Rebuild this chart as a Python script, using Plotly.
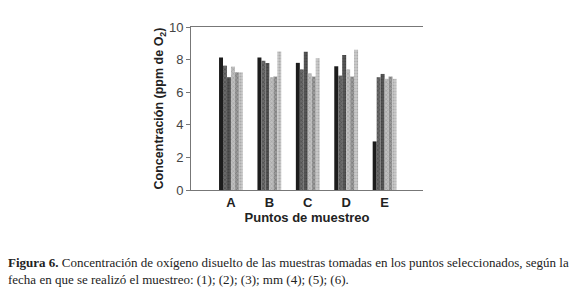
import plotly.graph_objects as go

categories = ["A", "B", "C", "D", "E"]
serie_1 = [8.13, 8.13, 7.80, 7.59, 2.98]
serie_2 = [7.63, 7.93, 7.40, 7.02, 6.92]
serie_3 = [6.92, 7.79, 8.48, 8.28, 7.12]
serie_4 = [7.57, 6.92, 7.16, 7.40, 6.82]
serie_5 = [7.22, 6.96, 6.96, 6.96, 6.96]
serie_6 = [7.22, 8.50, 8.09, 8.60, 6.82]
series = [serie_1, serie_2, serie_3, serie_4, serie_5, serie_6]
names = ["(1)", "(2)", "(3)", "(4)", "(5)", "(6)"]
y_ticks = [0, 2, 4, 6, 8, 10]
caption_1 = "<b>Figura 6.</b> Concentración de oxígeno disuelto de las muestras tomadas en los puntos seleccionados, según la"
caption_2 = "fecha en que se realizó el muestreo: (1); (2); (3); mm (4); (5); (6)."

styles = [
    dict(color="#1c1c1c", pattern=dict(shape="")),
    dict(color="#5e5e5e", pattern=dict(shape="x", fgcolor="#2e2e2e", bgcolor="#6a6a6a", size=3, solidity=0.4)),
    dict(color="#484848", pattern=dict(shape=".", fgcolor="#303030", bgcolor="#555555", size=3, solidity=0.4)),
    dict(color="#b4b4b4", pattern=dict(shape="x", fgcolor="#8a8a8a", bgcolor="#c0c0c0", size=3, solidity=0.4)),
    dict(color="#7e7e7e", pattern=dict(shape="x", fgcolor="#5a5a5a", bgcolor="#9a9a9a", size=3, solidity=0.4)),
    dict(color="#b8b8b8", pattern=dict(shape=".", fgcolor="#8c8c8c", bgcolor="#cacaca", size=3, solidity=0.4)),
]

fig = go.Figure()
for vals, nm, st in zip(series, names, styles):
    fig.add_trace(go.Bar(
        x=categories, y=vals, name=nm,
        marker=dict(color=st["color"], pattern=st["pattern"], line=dict(width=0)),
    ))

PL, PR, PT, PB = 191, 423, 27, 190
fig.update_layout(
    width=580, height=289,
    margin=dict(l=PL, r=580 - PR, t=PT, b=289 - PB, autoexpand=False),
    paper_bgcolor="white", plot_bgcolor="white",
    barmode="group", bargap=0.38, bargroupgap=0,
    showlegend=False,
    font=dict(family="Liberation Sans, Arial, sans-serif", color="#333333"),
)
fig.update_xaxes(
    type="category", range=[-1.04, 5.0], automargin=False,
    showline=True, linecolor="#777777", linewidth=1, mirror=True,
    showgrid=False, ticks="",
    tickfont=dict(size=13, color="#222222", family="Liberation Sans, Arial, sans-serif"),
    tickprefix="<b>", ticksuffix="</b>",
    title=dict(text="<b>Puntos de muestreo</b>", font=dict(size=13, color="#222222"), standoff=2),
)
fig.update_yaxes(
    range=[0, 10], tickvals=y_ticks, automargin=False,
    showline=True, linecolor="#777777", linewidth=1,
    showgrid=False, zeroline=False,
    ticks="outside", ticklen=4, tickcolor="#777777",
    tickfont=dict(size=13, color="#444444"),
    title=dict(text="<b>Concentración (ppm de O<sub>2</sub>)</b>", font=dict(size=12.5, color="#222222"), standoff=2),
)

pw, ph = PR - PL, PB - PT
for txt, cy in [(caption_1, 262), (caption_2, 279)]:
    fig.add_annotation(
        xref="paper", yref="paper", x=(6 - PL) / pw, y=(PB - cy) / ph,
        xanchor="left", yanchor="middle", align="left", showarrow=False,
        text=txt,
        font=dict(family="Liberation Serif, Times New Roman, serif", size=13, color="#222222"),
    )

fig.write_html("out.html", config={"displayModeBar": False},
               post_script="document.body.style.margin='0';document.body.style.padding='0';")
